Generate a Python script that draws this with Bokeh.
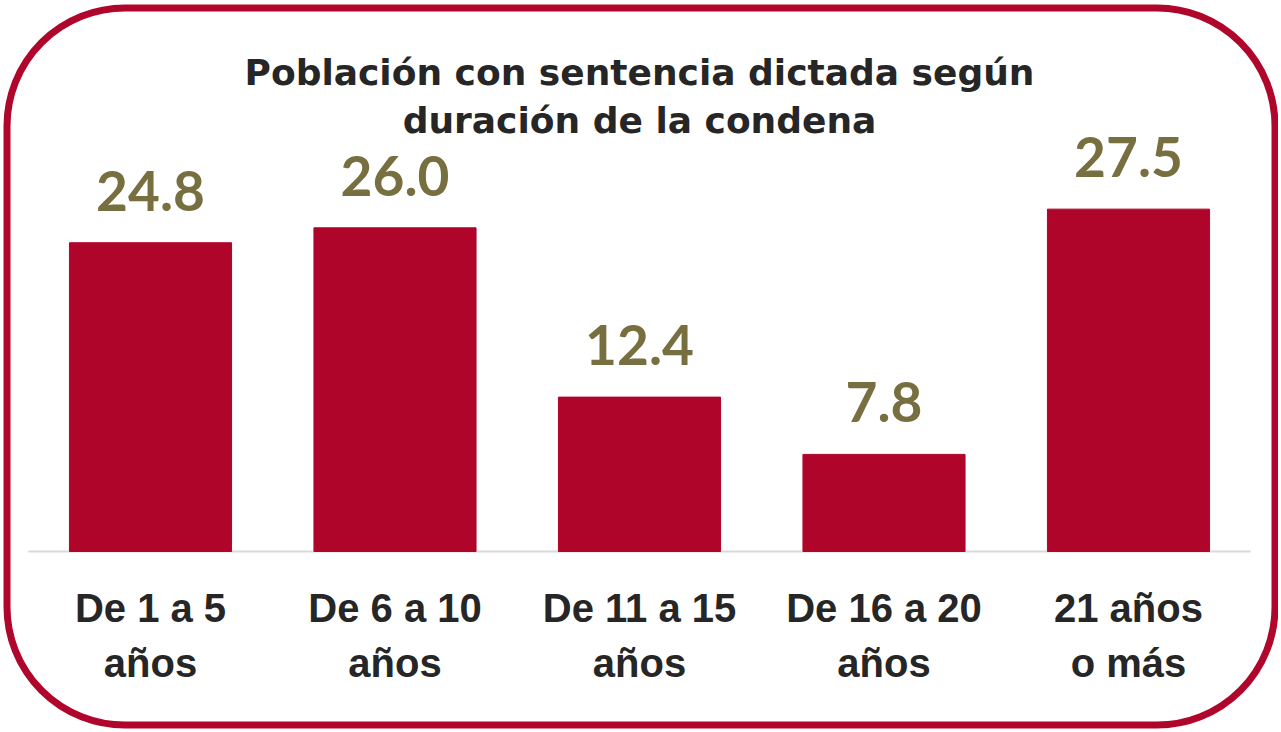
from bokeh.plotting import figure
from bokeh.models import FactorRange, Range1d, ColumnDataSource, BoxAnnotation, Label
from bokeh.core.properties import value
from bokeh.embed import file_html
from bokeh.resources import INLINE

# ---- data ----
categories = ["De 1 a 5\naños", "De 6 a 10\naños", "De 11 a 15\naños",
              "De 16 a 20\naños", "21 años\no más"]
values = [24.8, 26.0, 12.4, 7.8, 27.5]
value_labels = ["24.8", "26.0", "12.4", "7.8", "27.5"]
title_lines = ["Población con sentencia dictada según", "duración de la condena"]

# ---- layout constants (pixels) ----
W, H = 1278, 732
PX_PER_CAT = 244.5      # horizontal pixels per category
PX_PER_UNIT = 12.45     # vertical pixels per value unit
BASE_PX = 551           # baseline position from the top of the canvas

pad = (W / PX_PER_CAT - len(categories)) / 2.0
x_range = FactorRange(factors=categories, factor_padding=0,
                      range_padding=2 * pad / len(categories),
                      range_padding_units="percent")
y_range = Range1d(-(H - BASE_PX) / PX_PER_UNIT, BASE_PX / PX_PER_UNIT)


def xs(px):
    return -pad + px / PX_PER_CAT


def ys(py):
    return (BASE_PX - py) / PX_PER_UNIT


p = figure(width=W, height=H, x_range=x_range, y_range=y_range,
           output_backend="svg", toolbar_location=None, min_border=0,
           x_axis_location=None, y_axis_location=None)
p.grid.visible = False
p.outline_line_color = None
p.background_fill_color = "white"
p.border_fill_color = "white"

src = ColumnDataSource(dict(cat=categories, val=values, lbl=value_labels))

p.segment(x0=0, x1=len(categories), y0=0, y1=0, line_color="#D9D9D9", line_width=2)

p.vbar(x="cat", top="val", bottom=0, width=0.663, source=src,
       fill_color="#B0052A", line_color="#B0052A")

p.text(x="cat", y="val", text="lbl", source=src, y_offset=-52,
       text_align="center", text_baseline="alphabetic",
       text_font=value("Lato"), text_font_style="bold",
       text_font_size="55px", text_color="#776F40")

p.text(x="cat", y=0, text="cat", source=src, y_offset=34,
       text_align="center", text_baseline="top",
       text_font=value("Liberation Sans"), text_font_style="bold",
       text_font_size="40px", text_line_height=1.25, text_color="#262626")

for line, py in zip(title_lines, [72, 119.5]):
    p.add_layout(Label(x=len(categories) / 2, y=ys(py), text=line,
                       text_align="center", text_baseline="alphabetic",
                       text_font="DejaVu Sans", text_font_style="bold",
                       text_font_size="36px", text_color="#262626"))

border = BoxAnnotation(left=xs(6.5), right=xs(W - 3.5), top=ys(7.5), bottom=ys(724.5),
                       fill_color=None, fill_alpha=0,
                       line_color="#B0062C", line_alpha=1.0, line_width=7,
                       border_radius=118)
p.add_layout(border)

open("out.html", "w").write(file_html(p, INLINE))
